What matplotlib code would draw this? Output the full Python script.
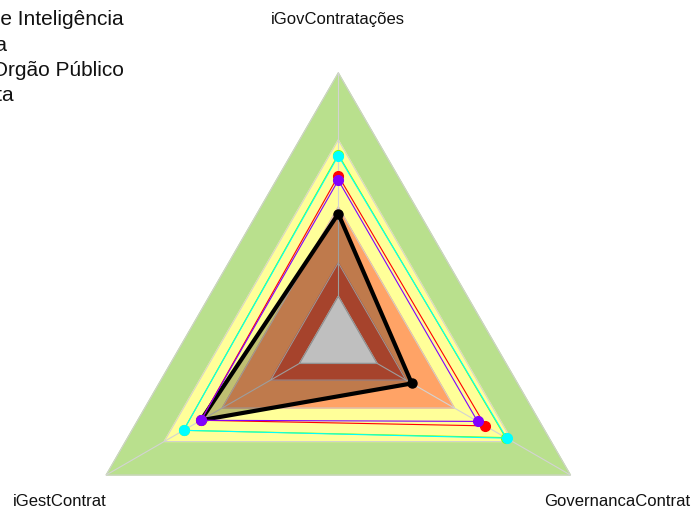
import numpy as np
import matplotlib
matplotlib.use('Agg')
import matplotlib.pyplot as plt

plt.rcParams['font.family'] = ['Liberation Sans', 'DejaVu Sans']

# eixos do radar (ordem anti-horaria a partir do topo)
categorias = ['iGovContratações', 'iGestContrat', 'GovernancaContrat']

# faixas de referencia (escala 0..1)
faixas = [1.0, 0.70, 0.40, 0.15]
cores_faixas = ['#B9E08D', '#FFFF99', '#FFA366', '#DE5A3C']

# series
serie_preta = [0.37, 0.51, 0.18]
series = {
    'red': [0.54, 0.51, 0.56],
    '#80FF00': [0.635, 0.60, 0.665],
    'cyan': [0.63, 0.60, 0.67],
    '#8000FF': [0.52, 0.51, 0.52],
}

legenda = ['Unidade de Inteligência', 'Média', 'Melhor Orgão Público', 'Meta']

SEG = 5
ang = np.deg2rad(90 + 120 * np.arange(len(categorias)))


def raio(v):
    # centro vazio como no fmsb (centerzero=FALSE)
    return 1.0 / (SEG + 1) + np.asarray(v) * SEG / (SEG + 1)


def xy(vals):
    r = raio(vals)
    x = r * np.cos(ang)
    y = r * np.sin(ang)
    return np.append(x, x[0]), np.append(y, y[0])


fig = plt.figure(figsize=(6.91, 5.13), dpi=100)
ax = fig.add_axes([0, 0, 1, 1])
R = 268.0
cx, cy = 338.3, 341.0
ax.set_xlim(-cx / R, (691 - cx) / R)
ax.set_ylim(-(513 - cy) / R, cy / R)
ax.axis('off')

# faixas coloridas
for v, c in zip(faixas, cores_faixas):
    x, y = xy([v] * 3)
    ax.fill(x, y, color=c, zorder=1)
    ax.plot(x, y, color='#D0D0D0', lw=0.7, zorder=2)

# centro vazio e raios
x, y = xy([0] * 3)
ax.fill(x, y, color='white', zorder=2)
ax.plot(x, y, color='#BEBEBE', lw=0.8, zorder=3)
for a in ang:
    r0, r1 = raio(0), raio(1)
    ax.plot([r0 * np.cos(a), r1 * np.cos(a)], [r0 * np.sin(a), r1 * np.sin(a)],
            color='#D3D3D3', lw=0.8, zorder=3)

# serie principal (preta, preenchida)
x, y = xy(serie_preta)
ax.fill(x, y, color='black', alpha=0.25, lw=0, zorder=4)
ax.plot(x, y, color='black', lw=3, zorder=5)
ax.plot(x[:-1], y[:-1], 'o', color='black', ms=6.5, zorder=5)

for cor, vals in series.items():
    x, y = xy(vals)
    ax.plot(x, y, color=cor, lw=0.8, zorder=6)
    ax.plot(x[:-1], y[:-1], 'o', color=cor, ms=7, zorder=6)

# rotulos dos eixos
for a, nome in zip(ang, categorias):
    ax.text(1.2 * np.cos(a), 1.2 * np.sin(a), nome, ha='center', va='center',
            fontsize=12, color='#111111')

# legenda (cortada na borda esquerda)
pos_dir = [124, 7, 124, 14]
for i, (txt, xd) in enumerate(zip(legenda, pos_dir)):
    fig.text(xd / 691, 1 - (25.3 + 25.3 * i) / 513, txt, ha='right',
             va='baseline', fontsize=15, color='#111111')

fig.savefig('out.png', dpi=100)
